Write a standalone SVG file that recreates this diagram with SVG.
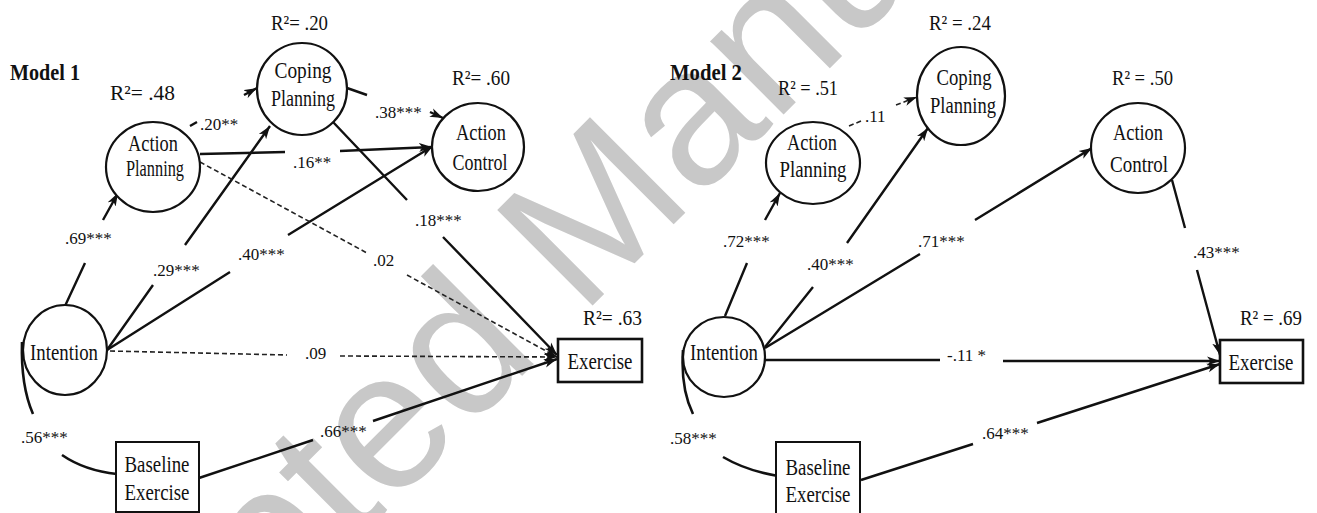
<svg xmlns="http://www.w3.org/2000/svg" width="1317" height="513" viewBox="0 0 1317 513">
<defs>
<marker id="ah" markerUnits="userSpaceOnUse" markerWidth="14" markerHeight="10" refX="13" refY="5" orient="auto"><path d="M0,0.5 L13,5 L0,9.5 L3.5,5 Z" fill="#111"/></marker>
</defs>
<style>
.wm{font-family:"Liberation Sans",Arial,sans-serif;font-size:196px;fill:#c8c8c8}
.n ellipse{fill:#fff;stroke:#111;stroke-width:2.2}
.n rect{fill:#fff;stroke:#111;stroke-width:2}
.n rect.ex{stroke-width:2.6}
.t{font-family:"Liberation Serif","Times New Roman",serif;fill:#111;font-size:23px;text-anchor:middle}
.r{font-family:"Liberation Serif","Times New Roman",serif;fill:#111;font-size:22px}
.c{font-family:"Liberation Serif","Times New Roman",serif;fill:#111;font-size:17px}
.m{font-family:"Liberation Serif","Times New Roman",serif;font-weight:bold;font-size:24px;fill:#111}
.s{fill:none;stroke:#111;stroke-width:2.4}
.d{fill:none;stroke:#222;stroke-width:1.6;stroke-dasharray:5 3}
.k{fill:none;stroke:#111;stroke-width:2.6}
</style>
<rect width="1317" height="513" fill="#fff"/>
<text class="wm" transform="translate(-35,933) rotate(-45)">Accepted Manuscript</text>

<g id="connectors">
  <!-- Model 1 -->
  <path class="s" d="M65,306 L85,263 M103,220 L118,193" marker-end="url(#ah)"/>
  <path class="s" d="M107,350 L153,285 M185,245 L270,126" marker-end="url(#ah)"/>
  <path class="s" d="M107,350 L230,272 M288,235 L433,146" marker-end="url(#ah)"/>
  <path class="d" d="M110,351 L287,355 M340,356 L557,357" marker-end="url(#ah)"/>
  <path class="s" d="M190,126 L197,122 M244,95 L257,88" marker-end="url(#ah)"/>
  <path class="s" d="M200,154 L285,152 M340,151 L432,147" marker-end="url(#ah)"/>
  <path class="d" d="M200,162 L367,253 M407,275 L557,357" marker-end="url(#ah)"/>
  <path class="s" d="M347,88 L367,95 M430,112 L443,118" marker-end="url(#ah)"/>
  <path class="s" d="M333,122 L407,200 M443,237 L557,355" marker-end="url(#ah)"/>
  <path class="s" d="M199,478 L313,440 M373,421 L557,359" marker-end="url(#ah)"/>
  <path class="k" d="M22,342 C21,375 26,398 33,414 M62,455 C78,466 98,472 117,474"/>
  <!-- Model 2 -->
  <path class="s" d="M725,316 L747,263 M765,220 L780,193" marker-end="url(#ah)"/>
  <path class="s" d="M765,347 L813,287 M847,243 L928,128" marker-end="url(#ah)"/>
  <path class="s" d="M765,348 L920,254 M975,220 L1092,148" marker-end="url(#ah)"/>
  <path class="s" d="M765,360 L940,360 M1003,361 L1220,361" marker-end="url(#ah)"/>
  <path class="d" d="M849,126 L861,121 M896,105 L917,97" marker-end="url(#ah)"/>
  <path class="s" d="M1172,180 L1185,228 M1197,270 L1220,355" marker-end="url(#ah)"/>
  <path class="s" d="M861,480 L973,444 M1037,423 L1220,364" marker-end="url(#ah)"/>
  <path class="k" d="M683,350 C681,380 686,400 693,414 M723,457 C740,467 760,473 778,476"/>
</g>

<g id="labels">
  <text class="m" x="10" y="80" textLength="70" lengthAdjust="spacingAndGlyphs">Model 1</text>
  <text class="r" x="110" y="100" textLength="65" lengthAdjust="spacingAndGlyphs">R²= .48</text>
  <text class="r" x="271" y="30" textLength="57" lengthAdjust="spacingAndGlyphs">R²= .20</text>
  <text class="r" x="452" y="85" textLength="58" lengthAdjust="spacingAndGlyphs">R²= .60</text>
  <text class="r" x="583" y="325" textLength="59" lengthAdjust="spacingAndGlyphs">R²= .63</text>
  <text class="c" x="65" y="244">.69***</text>
  <text class="c" x="153" y="276">.29***</text>
  <text class="c" x="238" y="260">.40***</text>
  <text class="c" x="305" y="359">.09</text>
  <text class="c" x="200" y="130">.20**</text>
  <text class="c" x="293" y="168">.16**</text>
  <text class="c" x="373" y="266">.02</text>
  <text class="c" x="375" y="118">.38***</text>
  <text class="c" x="415" y="226">.18***</text>
  <text class="c" x="320" y="437">.66***</text>
  <text class="c" x="21" y="443">.56***</text>

  <text class="m" x="670" y="80" textLength="72" lengthAdjust="spacingAndGlyphs">Model 2</text>
  <text class="r" x="778" y="95" textLength="60" lengthAdjust="spacingAndGlyphs">R² = .51</text>
  <text class="r" x="929" y="30" textLength="62" lengthAdjust="spacingAndGlyphs">R² = .24</text>
  <text class="r" x="1112" y="85" textLength="61" lengthAdjust="spacingAndGlyphs">R² = .50</text>
  <text class="r" x="1240" y="325" textLength="62" lengthAdjust="spacingAndGlyphs">R² = .69</text>
  <text class="c" x="723" y="247">.72***</text>
  <text class="c" x="807" y="270">.40***</text>
  <text class="c" x="918" y="247">.71***</text>
  <text class="c" x="947" y="361">-.11 *</text>
  <text class="c" x="865" y="122">.11</text>
  <text class="c" x="1193" y="258">.43***</text>
  <text class="c" x="982" y="439">.64***</text>
  <text class="c" x="670" y="444">.58***</text>
</g>

<g id="m1-action-planning" class="n">
  <ellipse cx="153" cy="167" rx="47" ry="45"/>
  <text class="t" x="153" y="151" textLength="50" lengthAdjust="spacingAndGlyphs">Action</text>
  <text class="t" x="155" y="176" textLength="58" lengthAdjust="spacingAndGlyphs">Planning</text>
</g>
<g id="m1-coping-planning" class="n">
  <ellipse cx="302" cy="89" rx="45" ry="46"/>
  <text class="t" x="303" y="78" textLength="57" lengthAdjust="spacingAndGlyphs">Coping</text>
  <text class="t" x="303" y="106" textLength="64" lengthAdjust="spacingAndGlyphs">Planning</text>
</g>
<g id="m1-action-control" class="n">
  <ellipse cx="478" cy="147" rx="46" ry="44"/>
  <text class="t" x="481" y="140" textLength="50" lengthAdjust="spacingAndGlyphs">Action</text>
  <text class="t" x="480" y="170" textLength="55" lengthAdjust="spacingAndGlyphs">Control</text>
</g>
<g id="m1-intention" class="n">
  <ellipse cx="65" cy="350" rx="42" ry="45"/>
  <text class="t" x="64" y="360" textLength="68" lengthAdjust="spacingAndGlyphs">Intention</text>
</g>
<g id="m1-baseline-exercise" class="n">
  <rect x="116" y="442" width="83" height="70"/>
  <text class="t" x="157" y="472" textLength="65" lengthAdjust="spacingAndGlyphs">Baseline</text>
  <text class="t" x="157" y="500" textLength="65" lengthAdjust="spacingAndGlyphs">Exercise</text>
</g>
<g id="m1-exercise" class="n">
  <rect class="ex" x="558" y="339" width="84" height="43"/>
  <text class="t" x="600" y="369" textLength="65" lengthAdjust="spacingAndGlyphs">Exercise</text>
</g>

<g id="m2-action-planning" class="n">
  <ellipse cx="813" cy="163" rx="47" ry="41"/>
  <text class="t" x="812" y="150" textLength="50" lengthAdjust="spacingAndGlyphs">Action</text>
  <text class="t" x="813" y="177" textLength="67" lengthAdjust="spacingAndGlyphs">Planning</text>
</g>
<g id="m2-coping-planning" class="n">
  <ellipse cx="961" cy="96" rx="44" ry="49"/>
  <text class="t" x="964" y="85" textLength="55" lengthAdjust="spacingAndGlyphs">Coping</text>
  <text class="t" x="963" y="113" textLength="66" lengthAdjust="spacingAndGlyphs">Planning</text>
</g>
<g id="m2-action-control" class="n">
  <ellipse cx="1138" cy="148" rx="47" ry="45"/>
  <text class="t" x="1138" y="140" textLength="50" lengthAdjust="spacingAndGlyphs">Action</text>
  <text class="t" x="1139" y="172" textLength="58" lengthAdjust="spacingAndGlyphs">Control</text>
</g>
<g id="m2-intention" class="n">
  <ellipse cx="724" cy="357" rx="41" ry="40"/>
  <text class="t" x="724" y="360" textLength="68" lengthAdjust="spacingAndGlyphs">Intention</text>
</g>
<g id="m2-baseline-exercise" class="n">
  <rect x="776" y="442" width="84" height="72"/>
  <text class="t" x="818" y="475" textLength="65" lengthAdjust="spacingAndGlyphs">Baseline</text>
  <text class="t" x="818" y="502" textLength="65" lengthAdjust="spacingAndGlyphs">Exercise</text>
</g>
<g id="m2-exercise" class="n">
  <rect class="ex" x="1220" y="340" width="83" height="43"/>
  <text class="t" x="1261" y="370" textLength="65" lengthAdjust="spacingAndGlyphs">Exercise</text>
</g>
</svg>
